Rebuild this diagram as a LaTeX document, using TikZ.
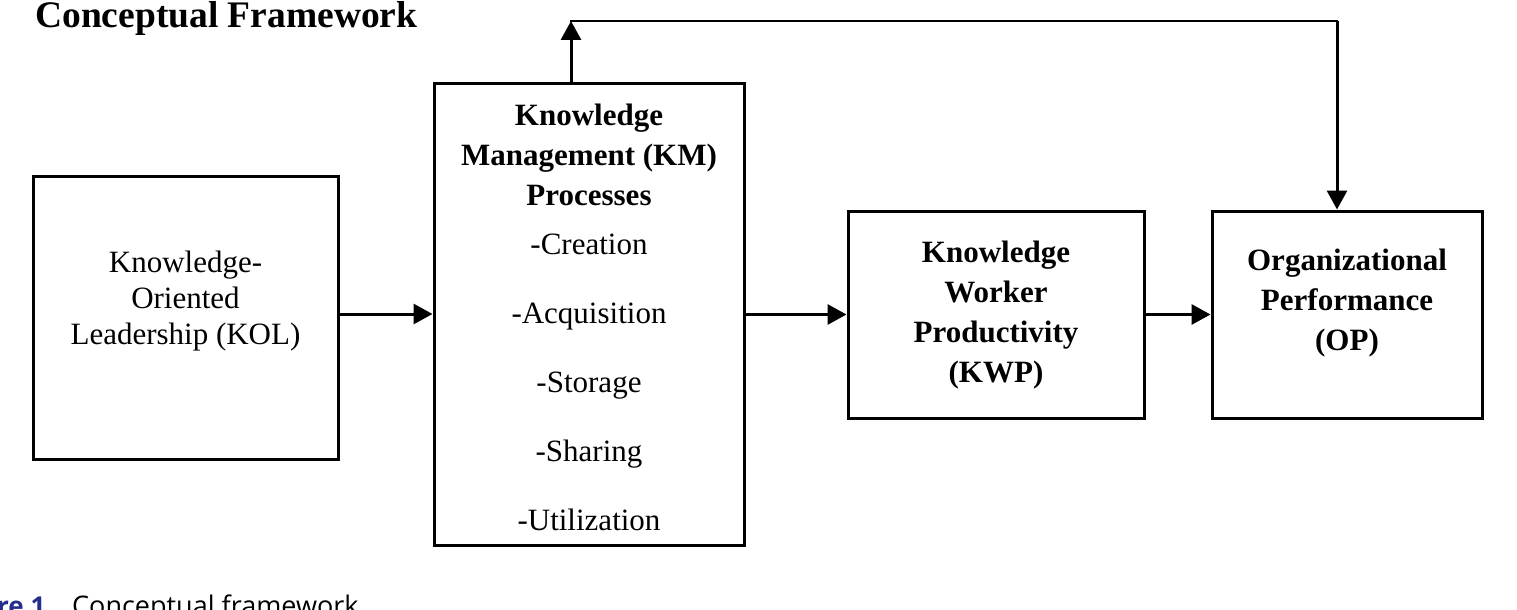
\documentclass[tikz,border=0pt]{standalone}
\usepackage{fontspec}
\setmainfont{Liberation Serif}
\newfontfamily\capfont{Open Sans}
\usetikzlibrary{arrows.meta}
\definecolor{figblue}{RGB}{35,45,140}
\begin{document}
\begin{tikzpicture}[x=1pt,y=-1pt,
  box/.style={draw, line width=3pt, inner sep=0pt},
  arr/.style={line width=3pt, -{Triangle[length=19pt,width=20pt]}},
  lbl/.style={align=center, inner sep=0pt, anchor=north},
  reg/.style={font=\fontsize{31}{#1}\selectfont},
  bld/.style={font=\bfseries\fontsize{31}{#1}\selectfont}]
\clip (0,0) rectangle (1517,610);
\fill[white] (0,0) rectangle (1517,610);
% title
\node[anchor=base west, inner sep=0pt, font=\bfseries\fontsize{37.5}{40}\selectfont] (title) at (35,28) {Conceptual Framework};
% boxes
\node[box, minimum width=305pt, minimum height=283pt] (kol) at (185.5,317.5) {};
\node[box, minimum width=310pt, minimum height=462pt] (km) at (589,314) {};
\node[box, minimum width=296pt, minimum height=207pt] (kwp) at (996,314.5) {};
\node[box, minimum width=270pt, minimum height=207pt] (op) at (1347,314.5) {};
% texts
\node[lbl, reg=36] (kolt) at (185.5,251) {Knowledge-\\Oriented\\Leadership (KOL)};
\node[lbl, bld=40] (kmt) at (589,104) {Knowledge\\Management (KM)\\Processes};
\node[lbl, reg=69] (kmi) at (589,234) {-Creation\\-Acquisition\\-Storage\\-Sharing\\-Utilization};
\node[lbl, bld=40] (kwpt) at (996,241) {Knowledge\\Worker\\Productivity\\(KWP)};
\node[lbl, bld=40] (opt) at (1347,249) {Organizational\\Performance\\(OP)};
% connectors
\draw[arr] (kol.east |- km.west) -- (km.west);
\draw[arr] (km.east |- kwp.west) -- (kwp.west);
\draw[arr] (kwp.east) -- (op.west);
\coordinate (fb1) at (571,21);
\coordinate (fb2) at (1337,21);
\draw[arr] (km.north -| fb1) -- (fb1);
\draw[line width=2pt, line cap=rect] (fb1) -- (fb2);
\draw[arr] (fb2) -- (op.north -| fb2);
% caption
\node[anchor=base west, inner sep=0pt, font=\capfont\bfseries\fontsize{26}{30}\selectfont, text=figblue] (cap1) at (-3,615) {re 1.};
\node[anchor=base west, inner sep=0pt, font=\capfont\fontsize{27}{30}\selectfont] (cap2) at (72,615) {Conceptual framework};
\end{tikzpicture}
\end{document}
